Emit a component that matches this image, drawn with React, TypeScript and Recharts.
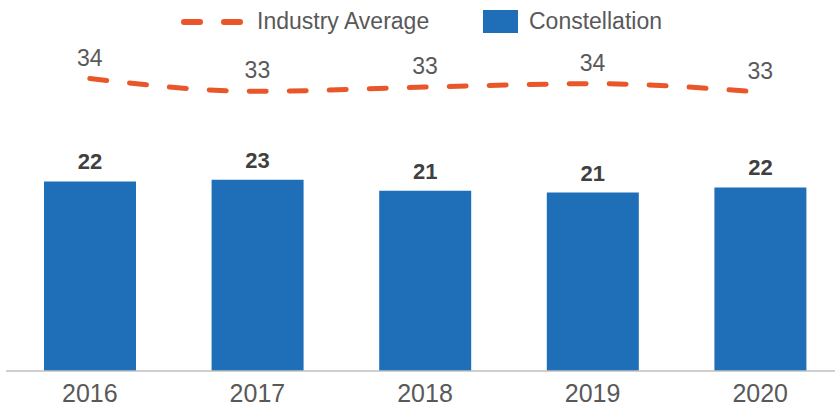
import React from "react";
import { Bar, ComposedChart, LabelList, Line, XAxis, YAxis } from "recharts";

const years = ["2016", "2017", "2018", "2019", "2020"];
const constellation = [22.3, 22.5, 21.2, 21.0, 21.6];
const industryAverage = [34.4, 32.9, 33.4, 33.8, 32.8];

const data = years.map((year, i) => ({
  year,
  constellation: constellation[i],
  industry: industryAverage[i],
}));

const BLUE = "#1f6fb8";
const ORANGE = "#e8562a";
const FONT = "'Liberation Sans', Arial, sans-serif";

function LegendRow() {
  return (
    <div
      style={{
        position: "absolute",
        top: 8,
        left: 0,
        width: 835,
        height: 28,
        fontFamily: FONT,
        fontSize: 23,
        color: "#595959",
      }}
    >
      <svg style={{ position: "absolute", left: 180, top: 6 }} width={70} height={16}>
        <line x1={4} y1={8} x2={66} y2={8} stroke={ORANGE} strokeWidth={6} strokeDasharray="16 24" strokeLinecap="round" />
      </svg>
      <span style={{ position: "absolute", left: 257, top: 0 }}>Industry Average</span>
      <div style={{ position: "absolute", left: 483, top: 2, width: 35, height: 23, background: BLUE }} />
      <span style={{ position: "absolute", left: 529, top: 0 }}>Constellation</span>
    </div>
  );
}

export default function App() {
  return (
    <div style={{ position: "absolute", top: 0, left: 0, width: 835, height: 411, overflow: "hidden", background: "#fff" }}>
      <ComposedChart width={844} height={411} data={data} margin={{ top: 31, right: 0, left: 6, bottom: 0 }}>
        <XAxis
          dataKey="year"
          height={40}
          tickLine={false}
          axisLine={{ stroke: "#bfbfbf", strokeWidth: 1.5 }}
          tick={{ fill: "#595959", fontSize: 25, fontFamily: FONT }}
          tickMargin={7}
        />
        <YAxis hide domain={[0, 40]} />
        <Bar dataKey="constellation" fill={BLUE} barSize={92} isAnimationActive={false}>
          <LabelList
            dataKey="constellation"
            position="top"
            offset={12}
            formatter={(v: number) => Math.round(v)}
            style={{ fill: "#404040", fontSize: 22, fontWeight: 700, fontFamily: FONT }}
          />
        </Bar>
        <Line
          type="monotone"
          dataKey="industry"
          stroke={ORANGE}
          strokeWidth={5}
          strokeDasharray="17 23"
          strokeLinecap="round"
          dot={false}
          activeDot={false}
          isAnimationActive={false}
        >
          <LabelList
            dataKey="industry"
            position="top"
            offset={13}
            formatter={(v: number) => Math.round(v)}
            style={{ fill: "#595959", fontSize: 23, fontFamily: FONT }}
          />
        </Line>
      </ComposedChart>
      <LegendRow />
    </div>
  );
}
